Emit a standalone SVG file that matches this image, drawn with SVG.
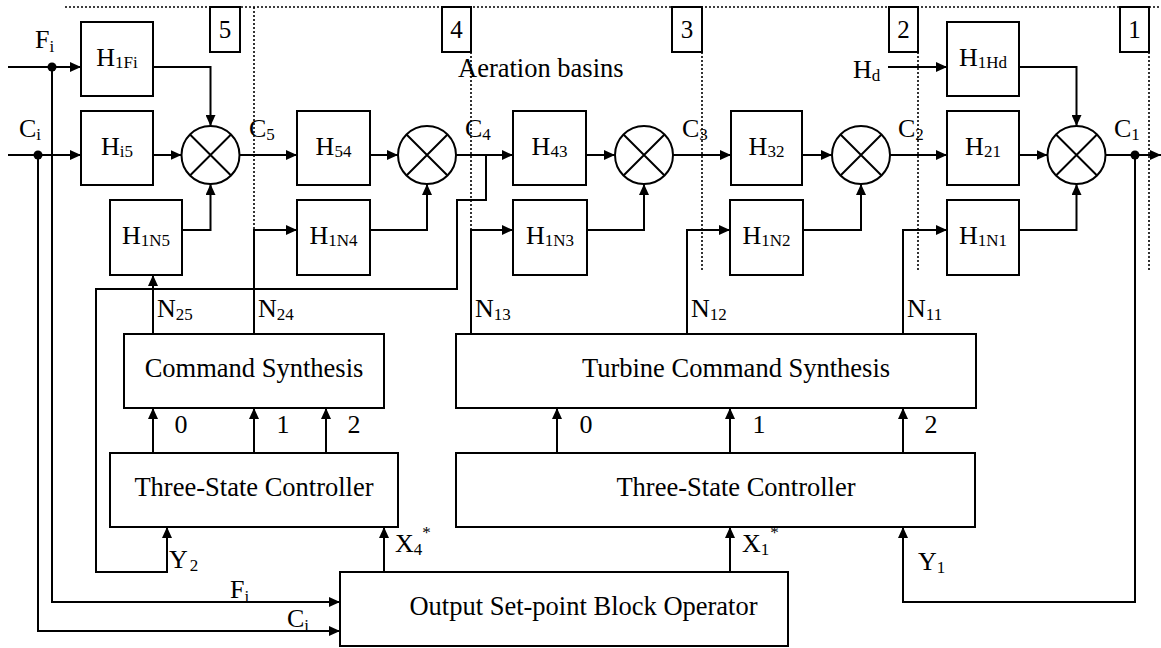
<svg xmlns="http://www.w3.org/2000/svg" width="1161" height="648" viewBox="0 0 1161 648">
<style>
text{font-family:"Liberation Serif","Times New Roman",serif;fill:#000}
.blk{fill:#fff;stroke:#000;stroke-width:2}
.lbl{font-size:26px}
.big{font-size:26.5px}
.mid{text-anchor:middle}
.sub{font-size:17px}
.num{font-size:25px;text-anchor:middle}
.wire{fill:none;stroke:#000;stroke-width:2}
.arr{marker-end:url(#ah)}
.dot{fill:none;stroke:#000;stroke-width:1.6;stroke-dasharray:2 2}
.sum{fill:#fff;stroke:#000;stroke-width:2}
</style>
<defs>
<marker id="ah" markerUnits="userSpaceOnUse" markerWidth="11" markerHeight="10" refX="11" refY="5" orient="auto">
<path d="M0,0 L11,5 L0,10 z" fill="#000"/>
</marker>
</defs>
<rect width="1161" height="648" fill="#fff"/>

<g id="zones">
<path class="dot" d="M65,7 H1161"/>
<path class="dot" d="M254,7 V272"/>
<path class="dot" d="M471,52 V272"/>
<path class="dot" d="M702,52 V272"/>
<path class="dot" d="M918,52 V272"/>
<path class="dot" d="M1149,52 V272"/>
<g id="zone5"><rect class="blk" x="210" y="7" width="30" height="45"/><text class="num" x="225" y="38">5</text></g>
<g id="zone4"><rect class="blk" x="442" y="7" width="29" height="45"/><text class="num" x="456.5" y="38">4</text></g>
<g id="zone3"><rect class="blk" x="672" y="7" width="30" height="45"/><text class="num" x="687" y="38">3</text></g>
<g id="zone2"><rect class="blk" x="889" y="7" width="29" height="45"/><text class="num" x="903.5" y="38">2</text></g>
<g id="zone1"><rect class="blk" x="1120" y="7" width="29" height="45"/><text class="num" x="1134.5" y="38">1</text></g>
<text class="big" x="458" y="77">Aeration basins</text>
</g>

<g id="connectors">
<path class="wire arr" d="M8,67 H81"/>
<path class="wire arr" d="M8,155 H81"/>
<path class="wire arr" d="M153,67 H210.5 V126"/>
<path class="wire arr" d="M153,155 H181.5"/>
<path class="wire arr" d="M182,230 H210.5 V184"/>
<path class="wire arr" d="M239.5,155 H297"/>
<path class="wire arr" d="M370,155 H398"/>
<path class="wire arr" d="M370,230 H427 V184"/>
<path class="wire arr" d="M456,155 H513"/>
<path class="wire arr" d="M486,155 V200 H457 V289 H96 V572 H167 V527"/>
<path class="wire arr" d="M586,155 H615"/>
<path class="wire arr" d="M587,230 H644 V184"/>
<path class="wire arr" d="M673,155 H731"/>
<path class="wire arr" d="M802,155 H832"/>
<path class="wire arr" d="M803,230 H861 V184"/>
<path class="wire arr" d="M890,155 H947"/>
<path class="wire arr" d="M888,67 H947"/>
<path class="wire arr" d="M1019,67 H1076.5 V126"/>
<path class="wire arr" d="M1019,155 H1047.5"/>
<path class="wire arr" d="M1019,230 H1076.5 V184"/>
<path class="wire arr" d="M1105.5,155 H1161"/>
<path class="wire arr" d="M1135,155 V602 H903 V527"/>
<path class="wire arr" d="M153,334 V275"/>
<path class="wire arr" d="M254,334 V230 H297"/>
<path class="wire arr" d="M471,334 V230 H513"/>
<path class="wire arr" d="M687,334 V230 H730"/>
<path class="wire arr" d="M903,334 V230 H947"/>
<path class="wire arr" d="M153,453 V408"/>
<path class="wire arr" d="M254,453 V408"/>
<path class="wire arr" d="M326,453 V408"/>
<path class="wire arr" d="M557,453 V408"/>
<path class="wire arr" d="M730,453 V408"/>
<path class="wire arr" d="M903,453 V408"/>
<path class="wire arr" d="M384,572 V527"/>
<path class="wire arr" d="M730,572 V527"/>
<path class="wire arr" d="M52,67 V602 H340"/>
<path class="wire arr" d="M38,155 V631 H340"/>
<circle cx="52" cy="67" r="4.5" fill="#000"/>
<circle cx="38" cy="155" r="4.5" fill="#000"/>
<circle cx="1135" cy="155" r="4.5" fill="#000"/>
</g>

<g id="signal-labels">
<text class="lbl" x="35" y="48">F<tspan class="sub" dy="4">i</tspan></text>
<text class="lbl" x="19" y="137">C<tspan class="sub" dy="3">i</tspan></text>
<text class="lbl" x="249" y="137">C<tspan class="sub" dy="3">5</tspan></text>
<text class="lbl" x="465" y="137">C<tspan class="sub" dy="3">4</tspan></text>
<text class="lbl" x="682" y="137">C<tspan class="sub" dy="3">3</tspan></text>
<text class="lbl" x="898" y="137">C<tspan class="sub" dy="3">2</tspan></text>
<text class="lbl" x="1114" y="137">C<tspan class="sub" dy="3">1</tspan></text>
<text class="lbl" x="853" y="78">H<tspan class="sub" dy="3">d</tspan></text>
<text class="lbl" x="157" y="317">N<tspan class="sub" dy="3">25</tspan></text>
<text class="lbl" x="258" y="317">N<tspan class="sub" dy="3">24</tspan></text>
<text class="lbl" x="475" y="317">N<tspan class="sub" dy="3">13</tspan></text>
<text class="lbl" x="691" y="317">N<tspan class="sub" dy="3">12</tspan></text>
<text class="lbl" x="907" y="317">N<tspan class="sub" dy="3">11</tspan></text>
<text class="lbl mid" x="181" y="433">0</text>
<text class="lbl mid" x="283" y="433">1</text>
<text class="lbl mid" x="354" y="433">2</text>
<text class="lbl mid" x="586" y="433">0</text>
<text class="lbl mid" x="759" y="433">1</text>
<text class="lbl mid" x="931" y="433">2</text>
<text class="lbl" x="169" y="568">Y<tspan class="sub" dy="3" dx="2">2</tspan></text>
<text class="lbl" x="395" y="552">X<tspan class="sub" dy="3">4</tspan><tspan class="sub" dy="-17">*</tspan></text>
<text class="lbl" x="742" y="552">X<tspan class="sub" dy="3">1</tspan><tspan class="sub" dy="-17" dx="1">*</tspan></text>
<text class="lbl" x="918" y="570">Y<tspan class="sub" dy="3">1</tspan></text>
<text class="lbl" x="230" y="598">F<tspan class="sub" dy="4">i</tspan></text>
<text class="lbl" x="287" y="627">C<tspan class="sub" dy="4">i</tspan></text>
</g>

<g id="H1Fi"><rect class="blk" x="81" y="22" width="72" height="74"/><text class="lbl mid" x="117" y="66">H<tspan class="sub" dy="2">1Fi</tspan></text></g>
<g id="Hi5"><rect class="blk" x="81" y="111" width="72" height="74"/><text class="lbl mid" x="117" y="155">H<tspan class="sub" dy="2">i5</tspan></text></g>
<g id="H1N5"><rect class="blk" x="110" y="200" width="72" height="75"/><text class="lbl mid" x="146" y="244">H<tspan class="sub" dy="2">1N5</tspan></text></g>
<g id="H54"><rect class="blk" x="297" y="111" width="73" height="74"/><text class="lbl mid" x="333.5" y="155">H<tspan class="sub" dy="2">54</tspan></text></g>
<g id="H1N4"><rect class="blk" x="297" y="200" width="73" height="75"/><text class="lbl mid" x="333.5" y="244">H<tspan class="sub" dy="2">1N4</tspan></text></g>
<g id="H43"><rect class="blk" x="513" y="111" width="73" height="74"/><text class="lbl mid" x="549.5" y="155">H<tspan class="sub" dy="2">43</tspan></text></g>
<g id="H1N3"><rect class="blk" x="513" y="200" width="74" height="75"/><text class="lbl mid" x="550" y="244">H<tspan class="sub" dy="2">1N3</tspan></text></g>
<g id="H32"><rect class="blk" x="731" y="111" width="71" height="74"/><text class="lbl mid" x="766.5" y="155">H<tspan class="sub" dy="2">32</tspan></text></g>
<g id="H1N2"><rect class="blk" x="730" y="200" width="73" height="75"/><text class="lbl mid" x="766.5" y="244">H<tspan class="sub" dy="2">1N2</tspan></text></g>
<g id="H1Hd"><rect class="blk" x="947" y="22" width="72" height="74"/><text class="lbl mid" x="983" y="66">H<tspan class="sub" dy="2">1Hd</tspan></text></g>
<g id="H21"><rect class="blk" x="947" y="111" width="72" height="74"/><text class="lbl mid" x="983" y="155">H<tspan class="sub" dy="2">21</tspan></text></g>
<g id="H1N1"><rect class="blk" x="947" y="200" width="72" height="75"/><text class="lbl mid" x="983" y="244">H<tspan class="sub" dy="2">1N1</tspan></text></g>

<g id="sum5"><circle class="sum" cx="210.5" cy="155" r="29"/><path class="wire" d="M190,134.5 L231,175.5 M231,134.5 L190,175.5"/></g>
<g id="sum4"><circle class="sum" cx="427" cy="155" r="29"/><path class="wire" d="M406.5,134.5 L447.5,175.5 M447.5,134.5 L406.5,175.5"/></g>
<g id="sum3"><circle class="sum" cx="644" cy="155" r="29"/><path class="wire" d="M623.5,134.5 L664.5,175.5 M664.5,134.5 L623.5,175.5"/></g>
<g id="sum2"><circle class="sum" cx="861" cy="155" r="29"/><path class="wire" d="M840.5,134.5 L881.5,175.5 M881.5,134.5 L840.5,175.5"/></g>
<g id="sum1"><circle class="sum" cx="1076.5" cy="155" r="29"/><path class="wire" d="M1056,134.5 L1097,175.5 M1097,134.5 L1056,175.5"/></g>

<g id="command-synthesis"><rect class="blk" x="124" y="334" width="260" height="74"/><text class="big mid" x="254" y="377">Command Synthesis</text></g>
<g id="turbine-command-synthesis"><rect class="blk" x="456" y="334" width="520" height="74"/><text class="big mid" x="736" y="377">Turbine Command Synthesis</text></g>
<g id="three-state-left"><rect class="blk" x="110" y="453" width="288" height="74"/><text class="big mid" x="254" y="496">Three-State Controller</text></g>
<g id="three-state-right"><rect class="blk" x="456" y="453" width="519" height="74"/><text class="big mid" x="736" y="496">Three-State Controller</text></g>
<g id="output-setpoint"><rect class="blk" x="340" y="572" width="448" height="74"/><text class="big mid" x="583.5" y="615">Output Set-point Block Operator</text></g>
</svg>
